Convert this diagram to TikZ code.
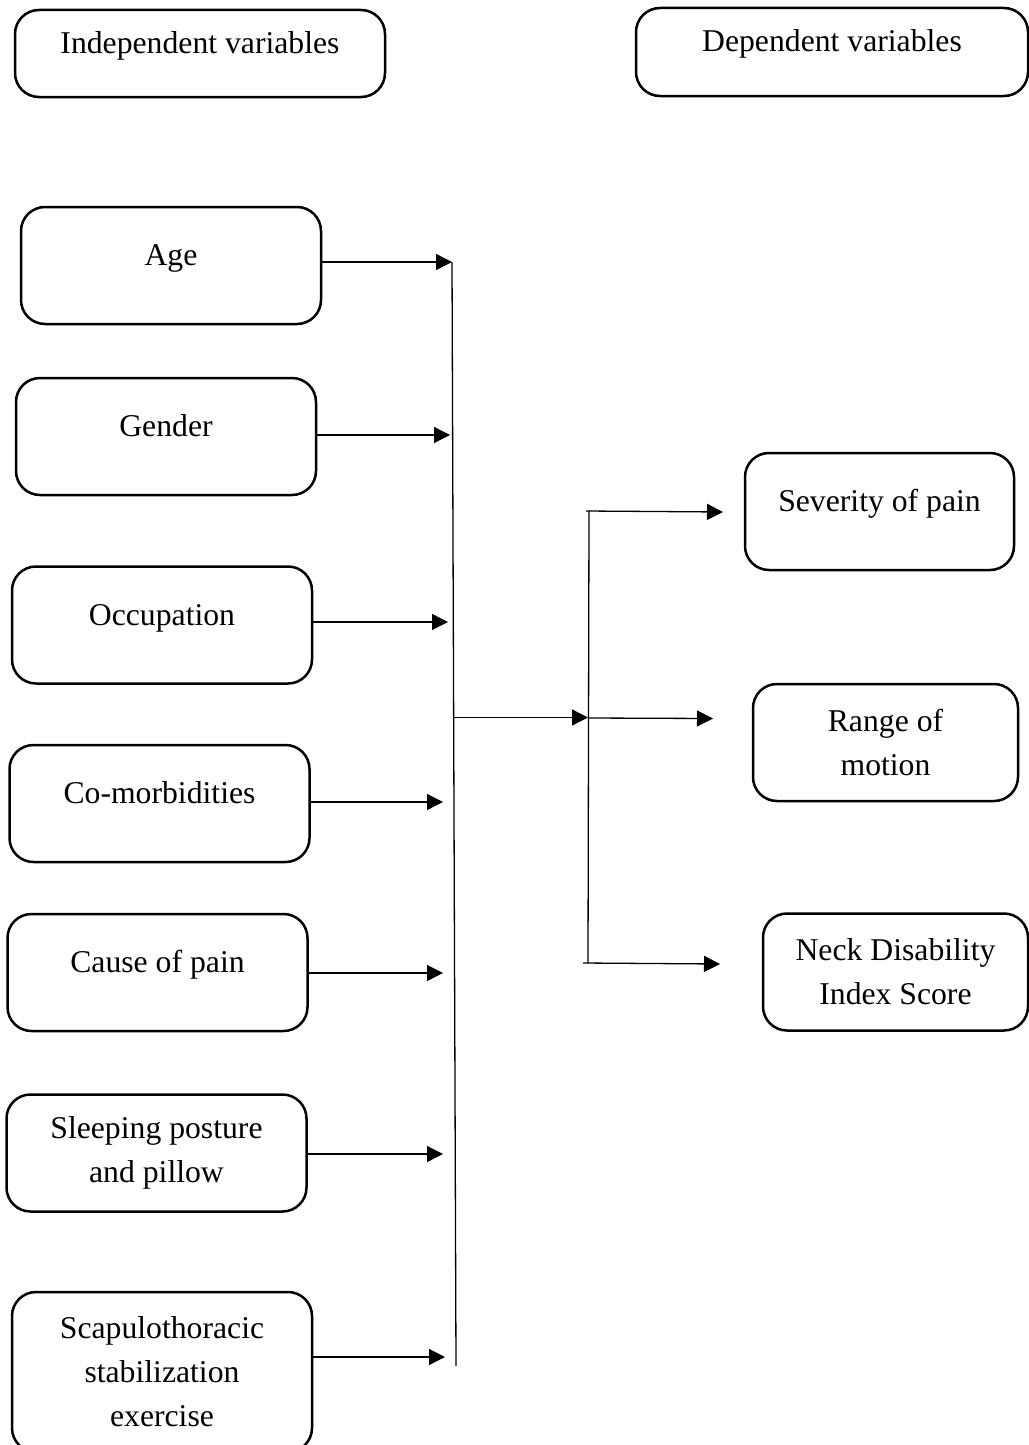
\documentclass[tikz,border=0pt]{standalone}
\usepackage{fontspec}
\setmainfont{Liberation Serif}
\usetikzlibrary{arrows.meta}
\begin{document}
\begin{tikzpicture}[x=1pt,y=-1pt,
  box/.style={draw, line width=2.5pt, rounded corners=24pt, minimum width=300pt,
    minimum height=117pt, align=center, inner sep=0pt,
    font=\fontsize{31.7}{44}\selectfont},
  oneline/.style={text height=22pt, text depth=22pt},
  conn/.style={line width=1.3pt},
  arr/.style={conn, -{Triangle[length=16pt,width=16pt]}}]
\fill[white] (0,0) rectangle (1028,1445);
\useasboundingbox (0,0) rectangle (1028,1445);

% header boxes
\node[box, oneline, minimum width=370pt, minimum height=87pt] (indep) at (200,53.5) {Independent variables};
\node[box, oneline, minimum width=392pt, minimum height=88pt] (dep) at (832,52) {Dependent variables};

% independent variable boxes
\node[box, oneline] (age) at (171,265.5) {Age};
\node[box, oneline] (gender) at (166,436.5) {Gender};
\node[box, oneline] (occ) at (162,625) {Occupation};
\node[box, oneline] (com) at (159.5,803.5) {Co-morbidities};
\node[box, oneline] (cause) at (157.5,972.5) {Cause of pain};
\node[box] (sleep) at (156.5,1153) {Sleeping posture\\and pillow};
\node[box, minimum height=160pt] (scap) at (162,1372) {Scapulothoracic\\stabilization\\exercise};

% dependent variable boxes
\node[box, oneline, minimum width=269pt] (sev) at (879.5,511.5) {Severity of pain};
\node[box, minimum width=265pt] (rom) at (885.5,742.5) {Range of\\motion};
\node[box, minimum width=265pt] (ndi) at (895.5,972) {Neck Disability\\Index Score};

% first bus
\coordinate (b1top) at (452,262);
\coordinate (b1bot) at (456,1366);
\draw[conn] (b1top) -- (b1bot);

\coordinate (ta) at (452,262);
\coordinate (tg) at (450,435);
\coordinate (to) at (448,622);
\coordinate (tc) at (443,802);
\coordinate (tx) at (443,973);
\coordinate (ts) at (443,1154);
\coordinate (tp) at (445,1357);

\draw[arr] (age.east |- ta) -- (ta);
\draw[arr] (gender.east |- tg) -- (tg);
\draw[arr] (occ.east |- to) -- (to);
\draw[arr] (com.east |- tc) -- (tc);
\draw[arr] (cause.east |- tx) -- (tx);
\draw[arr] (sleep.east |- ts) -- (ts);
\draw[arr] (scap.east |- tp) -- (tp);

% link between buses
\coordinate (m1) at (453,717.5);
\coordinate (m2) at (588,717.5);
\draw[arr] (m1) -- (m2);

% second bus
\coordinate (b2top) at (589,511);
\coordinate (b2bot) at (588,963);
\draw[conn] (b2top) -- (b2bot);

\coordinate (s0) at (586,511);
\coordinate (stip) at (723,512);
\coordinate (r0) at (588,718);
\coordinate (rtip) at (713,718.5);
\coordinate (n0) at (583,963);
\coordinate (ntip) at (720,964);

\draw[arr] (s0) -- (stip);
\draw[arr] (r0) -- (rtip);
\draw[arr] (n0) -- (ntip);
\end{tikzpicture}
\end{document}
